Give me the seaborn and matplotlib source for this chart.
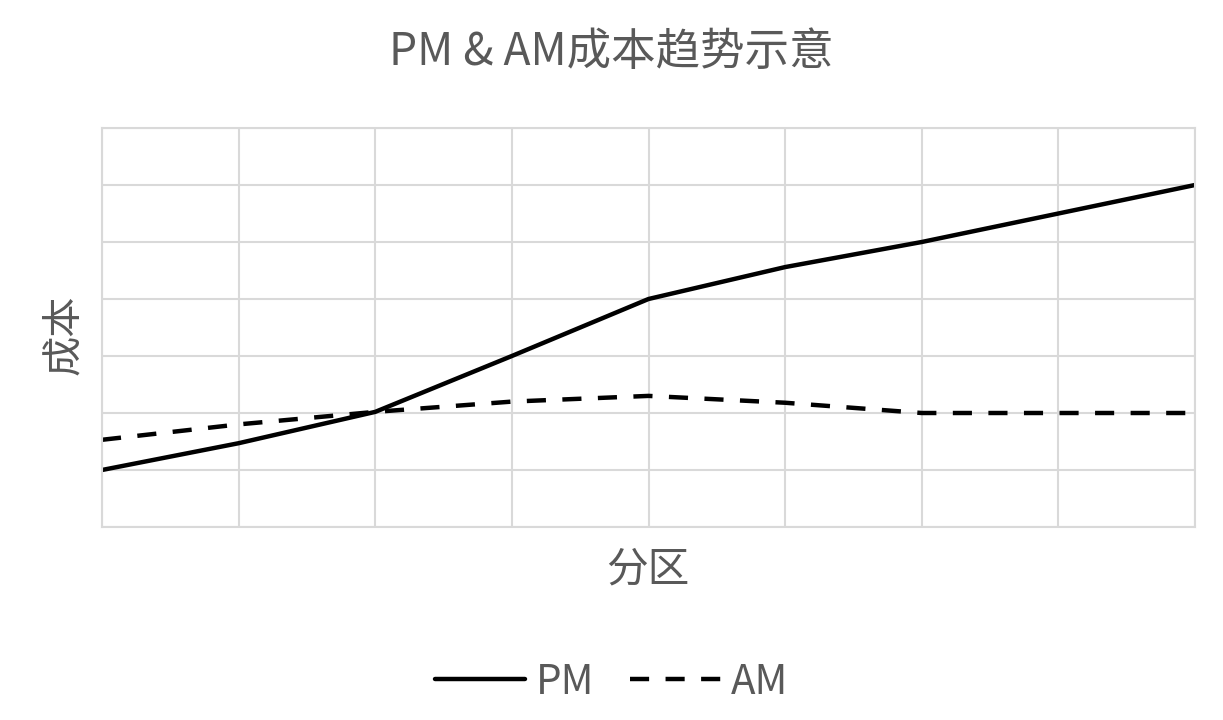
import numpy as np
import pandas as pd
import seaborn as sns
import matplotlib
matplotlib.use('Agg')
import matplotlib.pyplot as plt

# valores (9 particiones, escala 0-7)
particiones = [0, 1, 2, 3, 4, 5, 6, 7, 8]
coste_pm = [1.0, 1.47, 2.02, 3.0, 4.0, 4.56, 5.0, 5.5, 6.0]
coste_am = [1.53, 1.8, 2.02, 2.2, 2.3, 2.18, 2.0, 2.0, 2.0]
series = ['PM', 'AM']

titulo = 'PM & AM成本趋势示意'
etiqueta_x = '分区'
etiqueta_y = '成本'

sns.set_theme(style='white')
plt.rcParams['font.family'] = ['Noto Sans CJK SC', 'DejaVu Sans']

df = pd.DataFrame({
    'x': particiones * 2,
    'coste': coste_pm + coste_am,
    'serie': ['PM'] * len(coste_pm) + ['AM'] * len(coste_am),
})

gris_texto = '#595959'
gris_rejilla = '#d9d9d9'

fig = plt.figure(figsize=(12.23, 7.2), dpi=100)
ax = fig.add_axes([102 / 1223, 1 - 527 / 720, (1195 - 102) / 1223, (527 - 128) / 720])

sns.lineplot(data=df, x='x', y='coste', hue='serie', style='serie',
             hue_order=series, style_order=series,
             palette={'PM': 'black', 'AM': 'black'},
             dashes={'PM': '', 'AM': (4.3, 3.7)},
             linewidth=3.2, ax=ax, legend=False)

ax.set_xlim(0, 8)
ax.set_ylim(0, 7)
ax.set_xticks(np.arange(0, 9))
ax.set_yticks(np.arange(0, 8))
ax.grid(True, color=gris_rejilla, linewidth=1.5)
ax.set_axisbelow(True)
ax.tick_params(length=0, labelbottom=False, labelleft=False)
for s in ax.spines.values():
    s.set_color(gris_rejilla)
    s.set_linewidth(1.5)
ax.set_xlabel('')
ax.set_ylabel('')

fig.text(0.5, 1 - 52 / 720, titulo, ha='center', va='center', fontsize=32, color=gris_texto)
fig.text(648 / 1223, 1 - 570 / 720, etiqueta_x, ha='center', va='center', fontsize=30, color=gris_texto)
fig.text(63 / 1223, 1 - 335 / 720, etiqueta_y, ha='center', va='center', fontsize=29,
         color=gris_texto, rotation=90)

lineas = ax.get_lines()[:2]
ley = fig.legend(lineas, series, loc='center', bbox_to_anchor=(0.5, 1 - 682 / 720),
                 ncol=2, frameon=False, fontsize=29, handlelength=2.25,
                 handletextpad=0.25, columnspacing=0.9)
for t in ley.get_texts():
    t.set_color(gris_texto)

fig.savefig('out.png', dpi=100, facecolor='white')
